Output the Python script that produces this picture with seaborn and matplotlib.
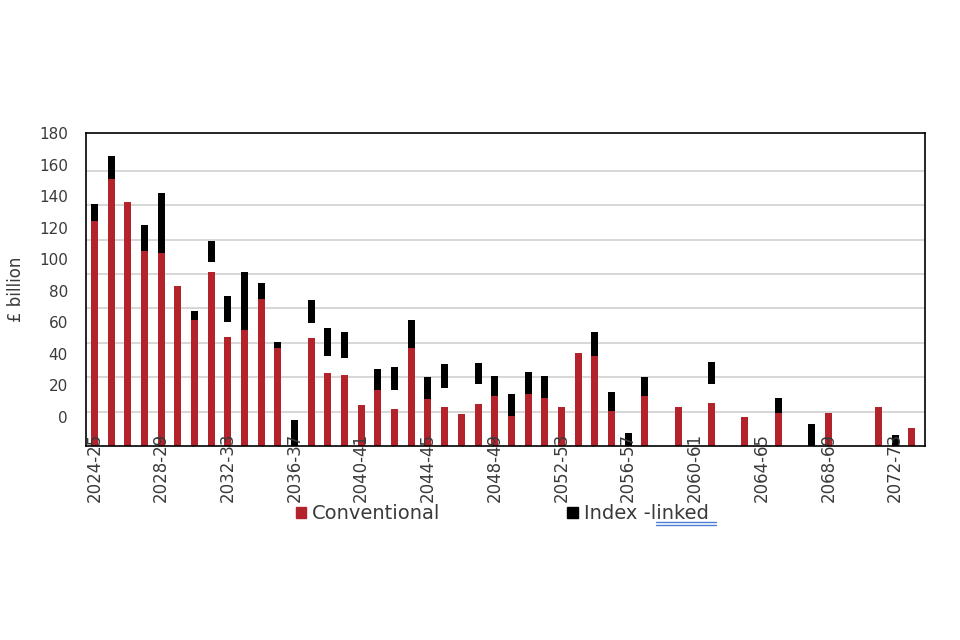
"""
Gilt redemptions by financial year: conventional vs index-linked.
"""

import matplotlib

matplotlib.use("Agg")
import matplotlib.pyplot as plt
from matplotlib.lines import Line2D
from matplotlib.patches import Patch
import numpy as np
import seaborn as sns

# financial years 2024-25 .. 2073-74
years = [f"{y}-{(y + 1) % 100:02d}" for y in range(2024, 2074)]

# £ billion
conventional = [
    131, 155, 142, 113.5, 112.5, 93, 73, 101, 63.5, 67.5,
    85.5, 57, 0, 63, 42.5, 41.5, 24, 32.5, 21.5, 57,
    27.5, 22.5, 18.5, 24.5, 29, 17.5, 30.5, 28, 23, 54,
    52.5, 20.5, 0, 29, 0, 22.5, 0, 25, 0, 17,
    0, 19.5, 0, 0, 19.5, 0, 0, 23, 0, 10.5,
]
index_linked = [
    9.5, 13.5, 0, 15, 34.5, 0, 5.5, 12, 15, 33.5,
    9, 3.5, 15, 13.5, 16, 15.5, 0, 12.5, 13.5, 16.5,
    12.5, 13.5, 0, 12, 12, 12.5, 12.5, 13, 0, 0,
    14, 11, 7.5, 11, 0, 0, 0, 13, 0, 0,
    0, 8.5, 0, 13, 0, 0, 0, 0, 6.5, 0,
]
# empty space the source chart leaves between the two segments
index_gap = [
    0, 0, 0, 0, 0, 0, 0, 6, 8.5, 0,
    0, 0, 0, 8.5, 10, 9.5, 0, 0, 11, 0,
    0, 11.5, 0, 11.5, 0, 0, 0, 0, 0, 0,
    0, 0, 0, 0, 0, 0, 0, 11, 0, 0,
    0, 0, 0, 0, 0, 0, 0, 0, 0, 0,
]

ytick_labels = ["0", "20", "40", "60", "80", "100", "120", "140", "160", "180"]

RED = "#b2232b"
TEXT = "#3a3a3a"

sns.set_theme(style="white")
plt.rcParams["font.family"] = ["DejaVu Sans"]

fig = plt.figure(figsize=(9.6, 6.4), dpi=100)
ax = fig.add_axes([0.0896, 0.303, 0.874, 0.489])

sns.barplot(x=years, y=conventional, color=RED, width=0.42, saturation=1,
            linewidth=0, ax=ax)
pos = np.arange(len(years))
bottoms = np.array(conventional) + np.array(index_gap)
ax.bar(pos, index_linked, bottom=bottoms, width=0.42, color="black",
       linewidth=0, zorder=3)

ax.set_xlim(-0.5, 49.8)
ax.set_ylim(0, 180)

# gridlines every 20, labels sit offset as in the source
ax.set_yticks(np.arange(20, 180, 20), minor=True)
ax.yaxis.grid(True, which="minor", color="#d4d4d4", linewidth=1.3)
ax.yaxis.grid(False, which="major")
ax.set_axisbelow(True)
ax.xaxis.set_zorder(5)
ax.set_yticks(np.linspace(16.9, 181.9, 10))
ax.set_yticklabels(ytick_labels)
ax.tick_params(axis="y", which="both", length=0, pad=13, labelsize=11, labelcolor=TEXT)
ax.set_ylabel("£ billion", fontsize=12, color=TEXT, labelpad=10)

ax.set_xticks(pos[::4])
ax.set_xticklabels(years[::4], rotation=90)
ax.set_xticks(np.arange(-0.5, 50, 2), minor=True)
ax.tick_params(axis="x", which="major", length=0, pad=-9.5, labelsize=12, labelcolor=TEXT)
ax.tick_params(axis="x", which="minor", length=4, width=1, color="black", direction="out")
ax.set_xlabel("")

for side in ["left", "right", "top", "bottom"]:
    ax.spines[side].set_visible(True)
    ax.spines[side].set_color("black")
    ax.spines[side].set_linewidth(1.2)

handles = [Patch(color=RED, label="Conventional"), Patch(color="black", label="Index -linked")]
fig.legend(
    handles=handles,
    loc="center",
    bbox_to_anchor=(0.523, 0.197),
    ncol=2,
    frameon=False,
    fontsize=14,
    handlelength=0.55,
    handleheight=0.55,
    handletextpad=0.3,
    columnspacing=6.5,
    labelcolor=TEXT,
)

# spell-check underline under "linked"
for yy in (0.184, 0.180):
    fig.add_artist(Line2D([0.683, 0.746], [yy, yy], color="#4a7fd6", linewidth=1))

fig.savefig("out.png", dpi=100)
